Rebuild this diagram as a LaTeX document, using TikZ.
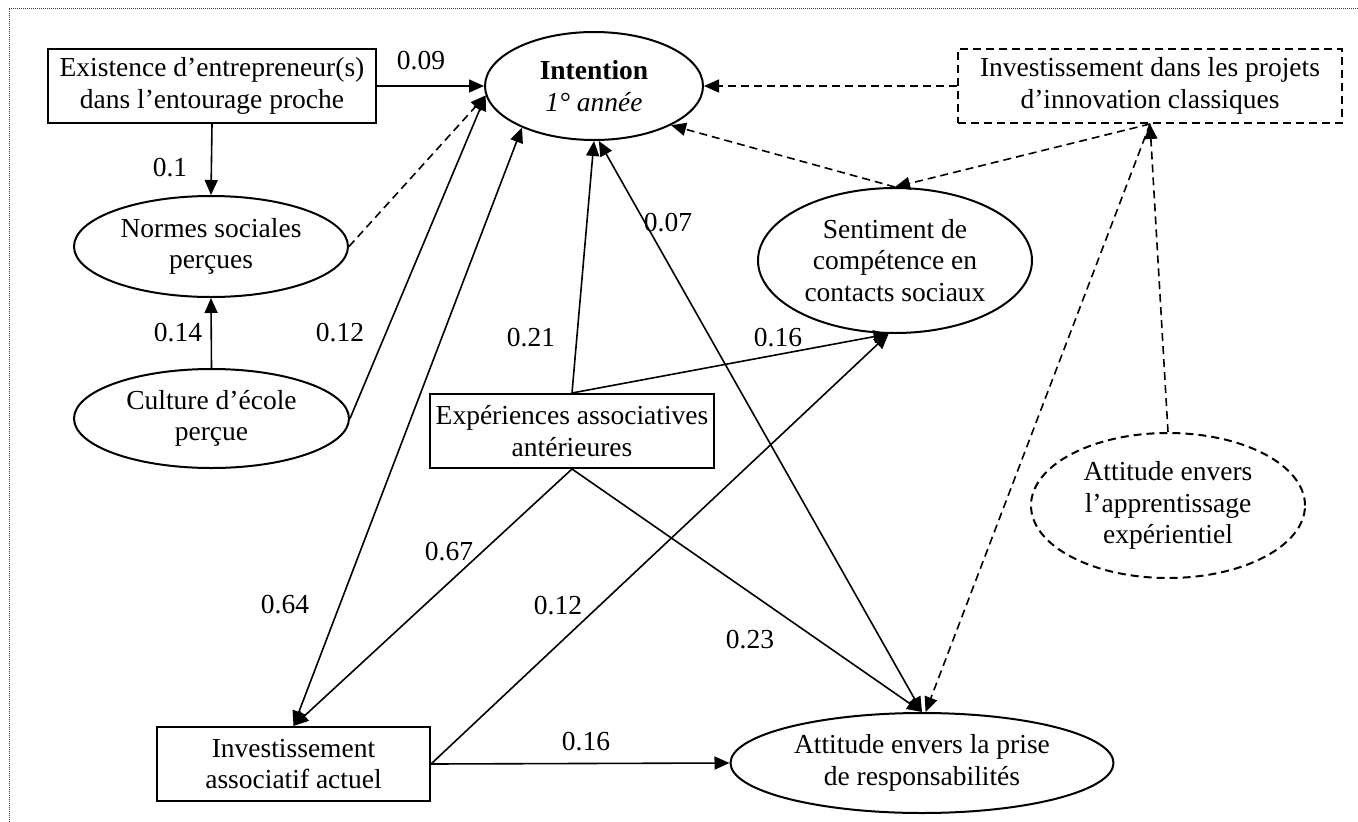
\documentclass[tikz,border=0pt]{standalone}
\usepackage{fontspec}
\setmainfont{Liberation Serif}
\usetikzlibrary{shapes.geometric,arrows.meta}
\begin{document}
\begin{tikzpicture}[x=1pt,y=-1pt,
  every node/.style={font=\fontsize{27.5}{31.5}\selectfont, inner sep=0pt, align=center},
  boxnode/.style={draw, line width=2pt, rectangle},
  ellnode/.style={draw, line width=2pt, ellipse},
  dashbox/.style={boxnode, dash pattern=on 8pt off 5pt},
  dashell/.style={ellnode, dash pattern=on 8pt off 5pt},
  tip/.tip={Triangle[length=15pt,width=13pt]},
  link/.style={line width=1.6pt, -tip},
  bilink/.style={line width=1.6pt, tip-tip},
  dlink/.style={line width=1.6pt, -tip, dash pattern=on 8pt off 5pt},
  frameline/.style={line width=1pt, black!75, dash pattern=on 1pt off 1pt}
]
\path[use as bounding box] (0,0) rectangle (1358,822);
\draw[frameline] (9,822) -- (9,8) -- (1358,8);

% nodes
\node[boxnode, minimum width=328pt, minimum height=74pt] (exist) at (212,86) {Existence d’entrepreneur(s)\\dans l’entourage proche};
\node[ellnode, minimum width=218pt, minimum height=108pt] (int) at (594,86) {\textbf{Intention}\\\textit{1° année}};
\node[dashbox, minimum width=384pt, minimum height=74pt] (proj) at (1150,86) {Investissement dans les projets\\d’innovation classiques};
\node[ellnode, minimum width=274pt, minimum height=101pt] (norm) at (211,246.5) {Normes sociales\\perçues};
\node[ellnode, minimum width=275pt, minimum height=99pt] (cult) at (211.5,418.5) {Culture d’école\\perçue};
\node[ellnode, minimum width=274pt, minimum height=145pt] (sent) at (895,260.5) {Sentiment de\\compétence en\\contacts sociaux};
\node[boxnode, minimum width=284pt, minimum height=74pt] (exp) at (572,431) {Expériences associatives\\antérieures};
\node[dashell, minimum width=274pt, minimum height=145pt] (appr) at (1168,505.5) {Attitude envers\\l’apprentissage\\expérientiel};
\node[boxnode, minimum width=273pt, minimum height=74pt] (inv) at (293.5,764) {Investissement\\associatif actuel};
\node[ellnode, minimum width=383pt, minimum height=100pt] (att) at (922,763) {Attitude envers la prise\\de responsabilités};

% connectors
\draw[link] (exist.east) -- (int.west);
\draw[link] (exist.south) -- (norm.north);
\draw[dlink] (norm.east) -- (int.185);
\draw[link] (cult.east) -- (int.185);
\draw[link] (cult.north) -- (norm.south);
\draw[bilink] (int.210) -- (inv.north);
\draw[link] (exp.north) -- (int.south);
\draw[bilink] (int.275) -- (att.north);
\draw[link] (exp.north) -- (sent.265);
\draw[link] (exp.south) -- (inv.north);
\draw[link] (exp.south) -- (att.north);
\draw[link] (inv.east) -- (att.west);
\draw[link] (inv.east) -- (sent.265);
\draw[dlink] (proj.west) -- (int.east);
\draw[dlink] (sent.north) -- (int.333);
\draw[dlink] (proj.south) -- (sent.north);
\draw[dlink] (proj.south) -- (att.86);
\draw[dlink] (appr.north) -- (proj.south);

% labels
\node (l1) at (421,61) {0.09};
\node (l2) at (170,168) {0.1};
\node (l3) at (178,333) {0.14};
\node (l4) at (340,333) {0.12};
\node (l5) at (531,338) {0.21};
\node (l6) at (668,223) {0.07};
\node (l7) at (778,338) {0.16};
\node (l8) at (449,552) {0.67};
\node (l9) at (285,605) {0.64};
\node (l10) at (558,606) {0.12};
\node (l11) at (750,640) {0.23};
\node (l12) at (586,742) {0.16};
\end{tikzpicture}
\end{document}
